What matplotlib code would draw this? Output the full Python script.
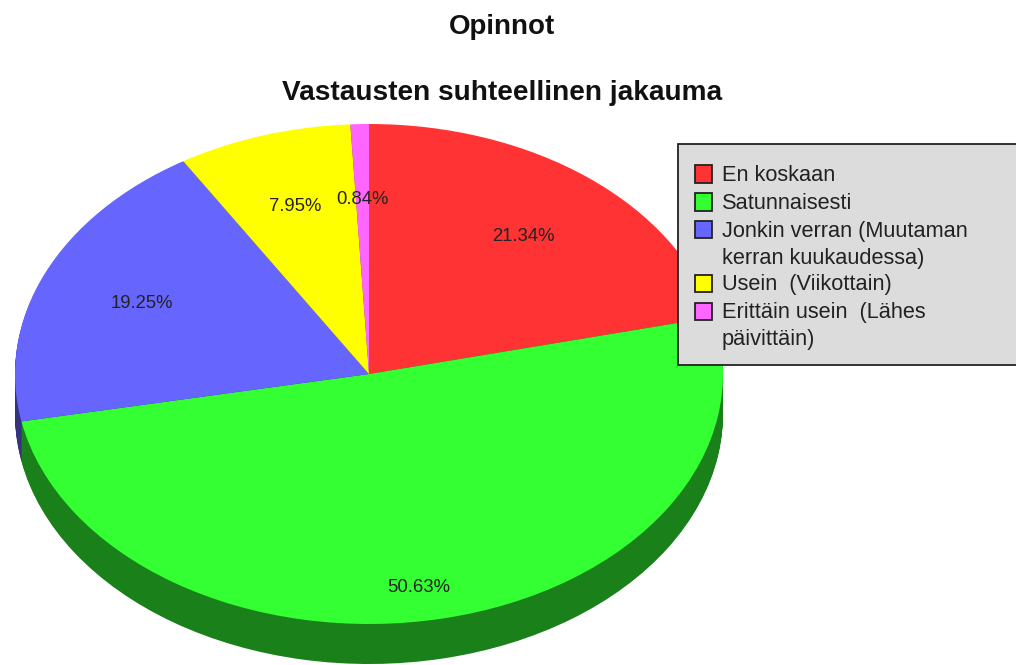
import matplotlib
matplotlib.use('Agg')
import matplotlib.pyplot as plt
from matplotlib.colors import to_rgb
from matplotlib.patches import Rectangle

plt.rcParams['font.family'] = ['Liberation Sans', 'DejaVu Sans']

# data
title = 'Opinnot'
subtitle = 'Vastausten suhteellinen jakauma'
categories = ['En koskaan', 'Satunnaisesti', 'Jonkin verran (Muutaman\nkerran kuukaudessa)',
              'Usein  (Viikottain)', 'Erittäin usein  (Lähes\npäivittäin)']
shares = [21.34, 50.63, 19.25, 7.95, 0.84]
colors = ['#ff3333', '#33ff33', '#6666ff', '#ffff00', '#ff66ff']

W, H = 1016, 665
cx, cy = 369, 374     # pie centre in pixels
rx, ry = 354, 250     # ellipse radii in pixels
depth = 40            # height of the pie side in pixels
legend_rows = [174, 202, 230, 283, 311]   # y of each legend entry in pixels

fig = plt.figure(figsize=(W / 100, H / 100), dpi=100)
ax = fig.add_axes([0, 0, 1, 1])

# side of the pie: darker copies stacked from the bottom up
dark = [tuple(c * 0.5 for c in to_rgb(col)) for col in colors]
for d in range(depth, 0, -1):
    ax.pie(shares, colors=dark, startangle=90, counterclock=False, normalize=True,
           center=(0, -d / ry), wedgeprops={'linewidth': 0})

# shares add up to 100.01, so print the values as given and not the recomputed ones
share_iter = iter(shares)
wedges, _, autotexts = ax.pie(shares, colors=colors, startangle=90, counterclock=False,
                              normalize=True, autopct=lambda p: f'{next(share_iter):.2f}%',
                              pctdistance=0.7, wedgeprops={'linewidth': 0},
                              textprops={'fontsize': 13.3, 'color': '#222222'})
# the big slice has its label further down
px, py = autotexts[1].get_position()
autotexts[1].set_position((px - 0.006, py * 1.25))

# stretch the circle to the ellipse
ax.set_aspect('auto')
ax.set_xlim(-cx / rx, (W - cx) / rx)
ax.set_ylim((cy - H) / ry, cy / ry)
ax.axis('off')

fig.text(502 / W, 1 - 27 / H, title, ha='center', va='center', fontsize=20, fontweight='bold', color='#111111')
fig.text(502 / W, 1 - 93 / H, subtitle, ha='center', va='center', fontsize=20.2, fontweight='bold', color='#111111')

# legend box runs off the right edge, drawn by hand because the
# swatches sit on the first line of the two line entries
fig.add_artist(Rectangle((678 / W, 1 - 365 / H), 345 / W, 221 / H, transform=fig.transFigure,
                         facecolor='#dcdcdc', edgecolor='#222222', linewidth=1.3, zorder=5))
for name, col, y in zip(categories, colors, legend_rows):
    fig.add_artist(Rectangle((695 / W, 1 - (y + 8.5) / H), 17 / W, 17 / H, transform=fig.transFigure,
                             facecolor=col, edgecolor='#222222', linewidth=1.3, zorder=6))
    fig.text(722 / W, 1 - (y - 9) / H, name, ha='left', va='top', fontsize=15.7,
             color='#222222', linespacing=1.37, zorder=7)

fig.savefig('out.png', dpi=100)
